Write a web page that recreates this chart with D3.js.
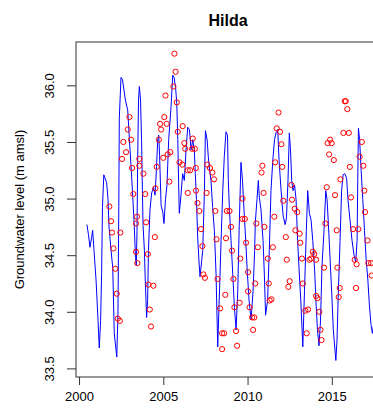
<!DOCTYPE html>
<html>
<head>
<meta charset="utf-8">
<script src="https://cdn.jsdelivr.net/npm/d3@7"></script>
<style>
  body { margin: 0; background: #fff; }
  text { font-family: 'Liberation Sans', Arial, sans-serif; fill: #000; }
</style>
</head>
<body>
<svg id="chart"></svg>
<script>
// simulated groundwater level (decimal year, m amsl)
const simYear = [2000.47,2000.56,2000.65,2000.74,2000.81,2000.89,2001.01,2001.13,2001.20,2001.28,2001.34,2001.39,2001.47,2001.64,2001.72,2001.78,2001.90,2002.00,2002.09,2002.24,2002.31,2002.36,2002.39,2002.49,2002.58,2002.75,2002.89,2002.99,2003.09,2003.19,2003.28,2003.35,2003.40,2003.44,2003.48,2003.53,2003.58,2003.65,2003.71,2003.76,2003.80,2003.88,2003.93,2004.01,2004.07,2004.12,2004.21,2004.31,2004.42,2004.51,2004.59,2004.67,2004.73,2004.78,2004.87,2004.97,2005.04,2005.13,2005.22,2005.32,2005.46,2005.56,2005.64,2005.73,2005.80,2005.86,2005.91,2005.95,2006.05,2006.15,2006.25,2006.35,2006.45,2006.55,2006.65,2006.75,2006.84,2006.90,2006.97,2007.04,2007.12,2007.18,2007.34,2007.44,2007.50,2007.60,2007.67,2007.73,2007.83,2007.93,2008.03,2008.13,2008.23,2008.31,2008.43,2008.53,2008.62,2008.72,2008.81,2008.86,2008.92,2009.02,2009.12,2009.22,2009.32,2009.42,2009.50,2009.61,2009.70,2009.79,2009.89,2009.99,2010.09,2010.21,2010.33,2010.42,2010.46,2010.56,2010.64,2010.70,2010.80,2010.92,2011.00,2011.07,2011.19,2011.29,2011.39,2011.50,2011.60,2011.69,2011.79,2011.87,2011.99,2012.11,2012.23,2012.31,2012.40,2012.48,2012.55,2012.62,2012.70,2012.79,2012.88,2012.97,2013.06,2013.16,2013.28,2013.38,2013.49,2013.57,2013.67,2013.77,2013.87,2013.98,2014.07,2014.15,2014.24,2014.33,2014.42,2014.54,2014.64,2014.72,2014.80,2014.90,2015.00,2015.09,2015.24,2015.31,2015.39,2015.49,2015.58,2015.67,2015.77,2015.88,2015.96,2016.08,2016.20,2016.32,2016.42,2016.50,2016.54,2016.58,2016.65,2016.74,2016.84,2016.94,2017.04,2017.14,2017.23,2017.33,2017.41,2017.51];
const simLevel = [34.77,34.68,34.57,34.65,34.72,34.54,34.28,33.92,33.68,33.92,34.34,34.92,35.21,35.14,34.99,34.75,34.54,34.39,33.81,33.60,33.99,34.93,35.71,36.07,36.05,35.87,35.78,35.52,35.28,35.01,34.75,34.48,34.41,34.72,35.34,35.87,35.99,35.87,35.52,35.07,34.76,34.54,34.28,33.95,34.10,34.54,34.90,35.05,35.10,35.03,35.25,35.52,35.56,35.38,34.94,34.88,34.78,34.99,35.12,35.52,35.81,36.09,36.07,35.98,35.84,35.52,35.14,34.87,35.03,35.22,35.16,35.43,35.63,35.61,35.43,35.52,35.43,35.22,34.99,34.66,34.44,34.31,34.54,35.07,35.60,35.52,35.37,35.28,35.16,34.92,34.72,34.34,33.69,34.06,34.63,35.07,35.37,35.59,35.56,35.16,34.92,34.63,34.34,34.04,33.84,34.19,34.72,35.32,35.16,34.90,34.63,34.34,34.10,33.93,34.19,34.54,34.79,34.99,35.16,35.01,34.90,34.63,34.32,33.97,34.10,34.54,35.07,35.34,35.52,35.58,35.61,35.34,35.07,34.85,34.77,34.83,35.16,35.58,35.43,35.16,35.07,35.12,34.99,34.63,34.37,34.10,33.69,34.19,34.72,35.07,34.87,34.81,34.63,34.37,34.06,33.84,33.70,33.92,34.41,34.72,35.07,34.99,34.77,34.46,34.15,33.84,33.57,33.75,34.19,34.63,35.07,35.21,35.22,35.18,34.99,34.81,34.63,34.50,34.44,34.63,35.16,35.62,35.52,35.25,34.99,34.72,34.46,34.28,34.06,33.88,33.81,33.92];

// observed groundwater level (decimal year, m amsl)
const obsYear = [2001.80,2001.90,2001.96,2002.45,2002.04,2002.15,2002.24,2002.30,2002.42,2002.55,2002.63,2002.79,2002.89,2002.99,2003.09,2003.15,2003.22,2003.44,2003.38,2003.38,2003.46,2003.58,2003.58,2003.82,2003.93,2003.98,2004.08,2004.12,2004.41,2004.20,2004.27,2004.50,2004.61,2004.53,2004.74,2004.81,2004.87,2005.06,2005.20,2005.13,2005.00,2005.26,2005.42,2005.36,2005.66,2005.73,2005.60,2005.80,2005.86,2006.15,2006.25,2006.30,2006.75,2006.71,2006.87,2005.96,2006.13,2006.45,2006.59,2006.93,2006.45,2006.94,2007.03,2007.14,2007.24,2007.32,2007.38,2007.47,2007.61,2007.77,2007.91,2008.01,2007.57,2008.09,2008.16,2008.22,2008.37,2008.49,2008.61,2008.49,2008.68,2008.77,2008.93,2008.72,2009.02,2009.08,2009.16,2009.22,2009.53,2009.32,2009.38,2009.70,2009.69,2009.84,2009.91,2009.57,2010.03,2010.03,2010.12,2010.27,2010.40,2010.33,2010.46,2010.52,2010.61,2010.83,2010.88,2010.95,2011.00,2011.20,2011.26,2011.31,2011.42,2011.50,2011.59,2011.64,2011.73,2011.84,2011.93,2012.01,2012.06,2012.12,2012.27,2012.33,2012.50,2012.42,2012.60,2012.64,2012.80,2012.95,2012.84,2013.09,2013.13,2013.23,2013.28,2013.43,2013.59,2013.51,2013.67,2013.77,2013.87,2013.96,2014.07,2014.07,2014.15,2014.26,2014.33,2014.39,2014.54,2014.62,2014.70,2014.75,2014.99,2014.90,2014.84,2015.12,2015.19,2015.29,2015.33,2015.41,2015.47,2015.51,2015.77,2015.83,2015.92,2015.69,2016.01,2016.07,2016.14,2016.26,2016.57,2016.36,2016.47,2016.44,2016.65,2016.78,2016.87,2016.93,2016.97,2017.12,2017.17,2017.33,2017.36];
const obsLevel = [34.93,34.80,34.70,34.70,34.56,34.38,34.16,33.94,33.92,35.35,35.50,35.41,35.61,35.72,35.52,35.27,35.04,34.84,34.78,34.53,34.43,35.35,35.29,35.22,35.04,34.79,34.51,34.24,34.23,34.02,33.87,34.66,35.28,35.09,35.52,35.66,35.61,35.72,35.66,35.91,35.36,35.39,35.41,35.15,36.28,36.12,35.99,35.85,35.59,35.64,35.49,35.44,35.53,35.44,35.44,35.32,35.30,35.25,35.25,35.27,35.05,35.07,34.96,34.89,34.73,34.58,34.33,34.30,35.30,35.27,35.23,35.17,35.05,34.89,34.64,34.29,34.03,33.81,33.81,33.67,34.15,34.89,34.89,34.65,34.75,34.54,34.29,34.04,34.08,33.83,33.70,35.00,34.82,34.82,34.61,34.47,34.35,34.18,34.04,33.95,33.95,33.84,34.25,34.78,34.57,35.23,35.29,35.05,34.75,34.47,34.25,34.10,34.11,34.57,34.84,35.32,35.62,35.76,35.59,35.48,35.28,34.98,34.66,34.46,34.27,34.22,35.12,34.99,34.91,34.88,34.72,34.69,34.61,34.47,34.25,34.01,34.02,33.81,34.46,34.47,34.53,34.51,34.46,34.14,34.12,34.00,33.84,33.75,34.39,34.78,35.10,35.49,35.49,35.52,35.39,35.34,35.03,34.72,34.39,34.13,34.21,35.17,35.86,35.86,35.79,35.58,35.58,35.28,35.01,34.73,34.73,34.46,34.42,34.21,35.37,35.50,35.29,35.07,34.88,34.63,34.43,34.43,34.32];

const xTicks = [2000, 2005, 2010, 2015];
const yTicks = [33.5, 34.0, 34.5, 35.0, 35.5, 36.0];
const title = 'Hilda';
const yLabel = 'Groundwater level (m amsl)';

const W = 373, H = 408;
const plot = { left: 76, right: 380, top: 42, bottom: 377 };

const svg = d3.select('#chart').attr('width', W).attr('height', H);
svg.append('rect').attr('width', W).attr('height', H).attr('fill', '#fff');

const x = d3.scaleLinear().domain([1999.82, 2017.86]).range([plot.left, plot.right]);
const y = d3.scaleLinear().domain([33.424, 36.383]).range([plot.bottom, plot.top]);

svg.append('defs').append('clipPath').attr('id', 'clip')
  .append('rect')
  .attr('x', plot.left).attr('y', plot.top)
  .attr('width', plot.right - plot.left).attr('height', plot.bottom - plot.top);

const g = svg.append('g').attr('clip-path', 'url(#clip)');

// simulated line
const sim = simYear.map((d, i) => ({ t: d, v: simLevel[i] }));
g.append('path')
  .datum(sim)
  .attr('fill', 'none')
  .attr('stroke', '#0000ff')
  .attr('stroke-width', 1)
  .attr('d', d3.line().x(d => x(d.t)).y(d => y(d.v)));

// observations
const obs = obsYear.map((d, i) => ({ t: d, v: obsLevel[i] }));
g.selectAll('circle')
  .data(obs)
  .enter()
  .append('circle')
  .attr('cx', d => x(d.t))
  .attr('cy', d => y(d.v))
  .attr('r', 2.6)
  .attr('fill', 'none')
  .attr('stroke', '#ff0000')
  .attr('stroke-width', 1);

// box
svg.append('rect')
  .attr('x', plot.left).attr('y', plot.top)
  .attr('width', plot.right - plot.left).attr('height', plot.bottom - plot.top)
  .attr('fill', 'none').attr('stroke', '#333').attr('stroke-width', 1);

// axes
const xAxis = svg.append('g')
  .attr('transform', 'translate(0,' + plot.bottom + ')')
  .call(d3.axisBottom(x).tickValues(xTicks).tickSize(8).tickPadding(7).tickFormat(d3.format('d')));
xAxis.select('.domain').remove();
xAxis.selectAll('line').attr('stroke', '#333');
xAxis.selectAll('text').style('font-size', '13px').attr('fill', '#000');

const yAxis = svg.append('g')
  .attr('transform', 'translate(' + plot.left + ',0)')
  .call(d3.axisLeft(y).tickValues(yTicks).tickSize(9).tickFormat(d3.format('.1f')));
yAxis.select('.domain').remove();
yAxis.selectAll('line').attr('stroke', '#333');
yAxis.selectAll('text')
  .attr('x', null).attr('dy', null)
  .attr('text-anchor', 'middle')
  .attr('transform', 'translate(-22,0) rotate(-90)')
  .style('font-size', '13px')
  .attr('fill', '#000');

// title and axis label
svg.append('text')
  .attr('x', (plot.left + plot.right) / 2)
  .attr('y', 26)
  .attr('text-anchor', 'middle')
  .style('font-size', '16px')
  .style('font-weight', 'bold')
  .attr('fill', '#222')
  .text(title);

svg.append('text')
  .attr('transform', 'translate(24,' + (plot.top + plot.bottom) / 2 + ') rotate(-90)')
  .attr('text-anchor', 'middle')
  .style('font-size', '13px')
  .text(yLabel);
</script>
</body>
</html>
